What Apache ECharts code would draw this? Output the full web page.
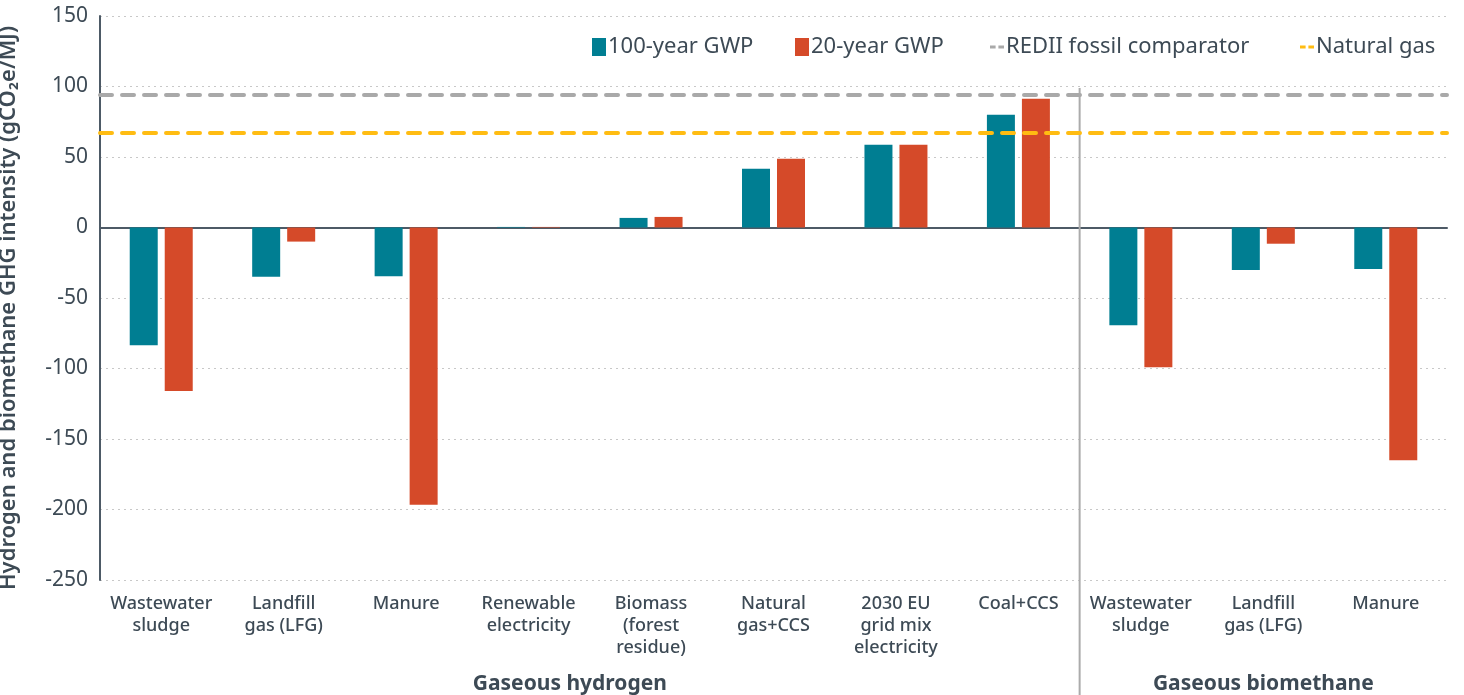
<!doctype html>
<html>
    <head>
        <meta charset="utf-8">
        <style>
            html, body { margin: 0; padding: 0; background: #fff; }
            #main { width: 1464px; height: 695px; }
        </style>
    </head>
    <body>
        <div id="main"></div>
        <script src="https://cdn.jsdelivr.net/npm/echarts@6/dist/echarts.min.js"></script>
        <script>
            var categories = [
                'Wastewater\nsludge', 'Landfill\ngas (LFG)', 'Manure', 'Renewable\nelectricity',
                'Biomass\n(forest\nresidue)', 'Natural\ngas+CCS', '2030 EU\ngrid mix\nelectricity', 'Coal+CCS',
                'Wastewater\nsludge', 'Landfill\ngas (LFG)', 'Manure'
            ];
            var gwp100 = [-83.5, -35, -34.5, 0.4, 6.8, 41.6, 58.7, 80, -69.3, -30.2, -29.5];
            var gwp20 = [-116, -10, -196.7, 0.4, 7.5, 48.7, 58.7, 91.4, -99.2, -11.5, -165];
            var fossilComparator = 94;
            var naturalGas = 67.4;
            var groups = ['Gaseous hydrogen', 'Gaseous biomethane'];
            var groupSizes = [8, 3];

            var textColor = '#3d4a55';
            var font = 'Noto Sans';
            var dashIcon = 'path://M0,0h6v3h-6zM9,0h6v3h-6z';

            var chart = echarts.init(document.getElementById('main'));

            function refSeries(name, value, color) {
                return {
                    name: name,
                    type: 'line',
                    data: [],
                    symbol: 'none',
                    lineStyle: { color: color, type: [12, 8], width: 4 },
                    itemStyle: { color: color },
                    markLine: {
                        silent: true,
                        symbol: 'none',
                        label: { show: false },
                        lineStyle: { color: color, type: [12, 10], width: 4, cap: 'round' },
                        data: [{ yAxis: value }]
                    }
                };
            }

            // one legend block per entry so each sits where the original has it
            var legendItems = [
                { name: '100-year GWP', icon: 'rect', left: 587 },
                { name: '20-year GWP', icon: 'rect', left: 790 },
                { name: 'REDII fossil comparator', icon: dashIcon, color: '#a9a9a9', left: 985 },
                { name: 'Natural gas', icon: dashIcon, color: '#ffbc12', left: 1295 }
            ];
            var legends = legendItems.map(function (it) {
                var d = { name: it.name, icon: it.icon };
                if (it.color) d.itemStyle = { color: it.color };
                return {
                    left: it.left,
                    top: 31,
                    itemWidth: 14,
                    itemHeight: 18,
                    symbolKeepAspect: true,
                    textStyle: { color: textColor, fontSize: 22, fontFamily: font, padding: [0, 0, 0, -3] },
                    data: [d]
                };
            });

            chart.setOption({
                animation: false,
                textStyle: { fontFamily: font },
                legend: legends,
                grid: { left: 100, right: 17, top: 16, bottom: 115, outerBoundsMode: 'none', containLabel: false },
                xAxis: {
                    type: 'category',
                    data: categories,
                    axisTick: { show: false },
                    axisLine: { onZero: true, lineStyle: { color: '#4d5a66', width: 2 } },
                    axisLabel: {
                        interval: 0,
                        color: textColor,
                        fontSize: 18,
                        fontWeight: 500,
                        lineHeight: 22,
                        margin: 13,
                        fontFamily: font
                    }
                },
                yAxis: {
                    type: 'value',
                    min: -250,
                    max: 150,
                    interval: 50,
                    name: 'Hydrogen and biomethane GHG intensity (gCO₂e/MJ)',
                    nameLocation: 'middle',
                    nameGap: 80,
                    nameTextStyle: {
                        color: textColor, fontSize: 22, fontWeight: 600, fontFamily: font,
                        padding: [0, 20, 0, 0]
                    },
                    axisLine: { show: true, lineStyle: { color: '#4d5a66', width: 2 } },
                    axisTick: { show: false },
                    axisLabel: { color: textColor, fontSize: 21, margin: 12, fontFamily: font },
                    splitLine: { lineStyle: { color: '#c8c8c8', type: [2, 4], width: 1 } }
                },
                series: [
                    {
                        name: '100-year GWP',
                        type: 'bar',
                        data: gwp100,
                        barWidth: 28,
                        barGap: '25%',
                        itemStyle: { color: '#007e92' }
                    },
                    {
                        name: '20-year GWP',
                        type: 'bar',
                        data: gwp20,
                        barWidth: 28,
                        barGap: '25%',
                        itemStyle: { color: '#d54a29' }
                    },
                    refSeries('REDII fossil comparator', fossilComparator, '#a9a9a9'),
                    refSeries('Natural gas', naturalGas, '#ffbc12')
                ]
            });

            // group divider and group titles placed from the category axis
            function catX(i) {
                return chart.convertToPixel({ xAxisIndex: 0 }, i);
            }
            var half = (catX(1) - catX(0)) / 2;
            var graphics = [];
            var start = 0;
            groups.forEach(function (g, k) {
                var end = start + groupSizes[k] - 1;
                var x0 = catX(start) - half;
                var x1 = catX(end) + half;
                graphics.push({
                    type: 'text',
                    x: (x0 + x1) / 2 - (k === 0 ? 20 : 0),
                    y: 684,
                    style: {
                        text: g,
                        fill: textColor,
                        font: 'bold 21px "Noto Sans"',
                        textAlign: 'center',
                        textVerticalAlign: 'middle'
                    }
                });
                if (k < groups.length - 1) {
                    graphics.push({
                        type: 'line',
                        shape: { x1: x1, y1: 88, x2: x1, y2: 695 },
                        style: { stroke: '#ababab', lineWidth: 2 },
                        z: 1
                    });
                }
                start = end + 1;
            });
            chart.setOption({ graphic: graphics });

            window.onresize = chart.resize;
        </script>
    </body>
</html>
